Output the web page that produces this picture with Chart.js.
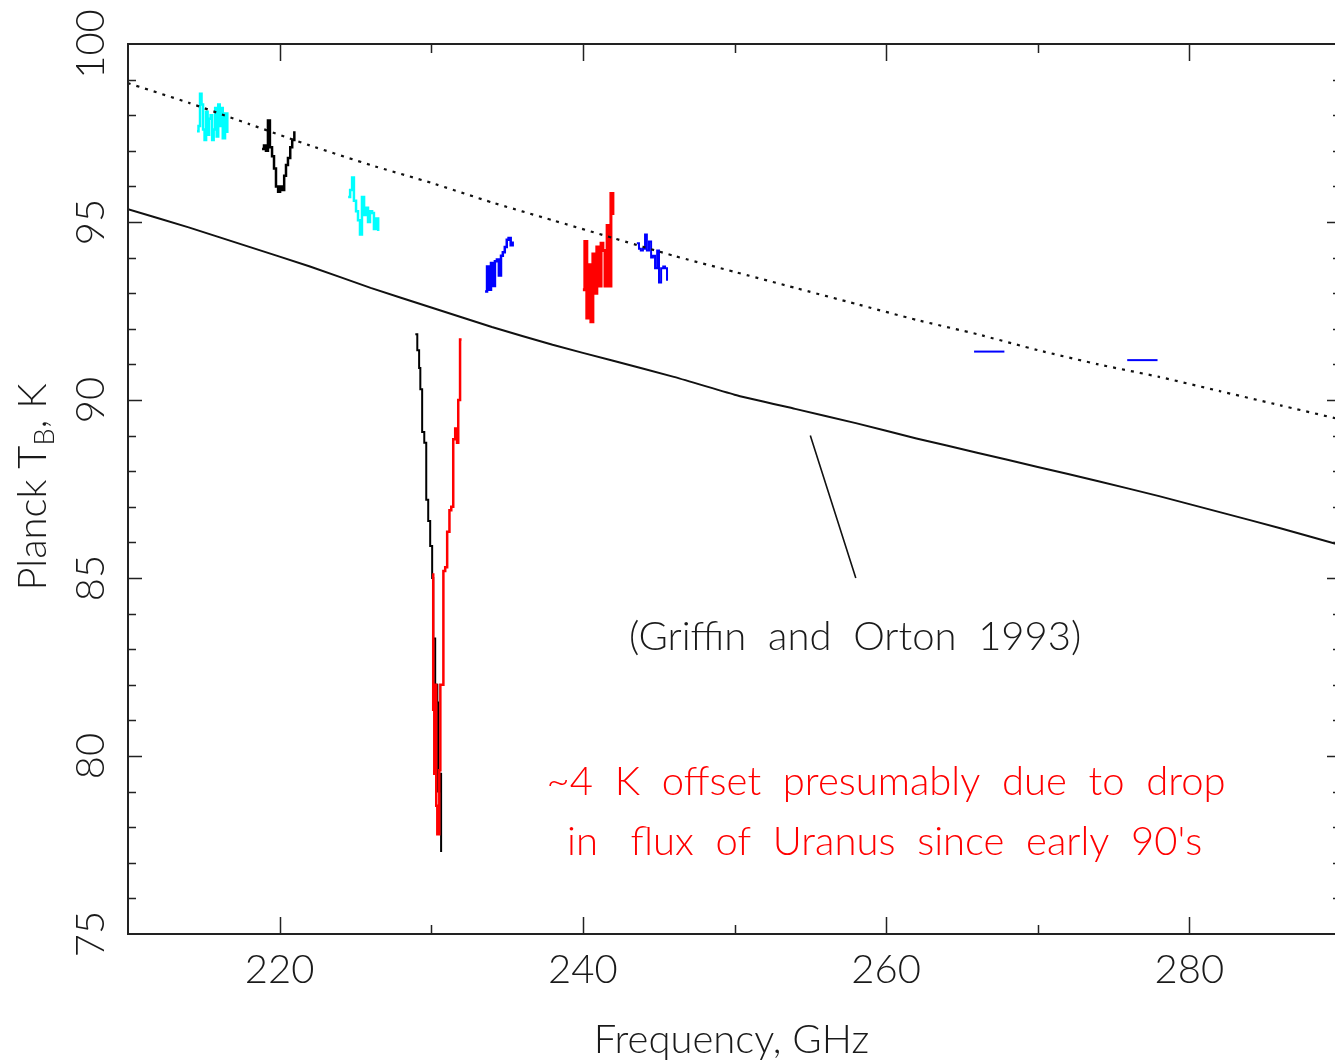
<!DOCTYPE html>
<html>
<head>
<meta charset="utf-8">
<title>Uranus brightness temperature</title>
<script src="https://cdn.jsdelivr.net/npm/chart.js@4.4.1/dist/chart.umd.min.js"></script>
<style>
  html, body { margin: 0; padding: 0; background: #fff; overflow: hidden; }
  #wrap { width: 1345px; height: 1064px; }
</style>
</head>
<body>
<div id="wrap"><canvas id="tb" width="1345" height="1064"></canvas></div>
<script>
// Axis ticks
const xTickLabels = [220, 240, 260, 280];
const yTickLabels = [75, 80, 85, 90, 95, 100];

// Model curve (Griffin and Orton 1993) and the same model lifted ~4 K
const modelFreq = [210, 214, 218, 222, 226, 230, 234, 238, 242, 246, 250, 254, 258, 262, 266, 270, 274, 278, 282, 286, 290];
const griffinOrtonK = [95.36, 94.85, 94.3, 93.75, 93.15, 92.6, 92.05, 91.55, 91.1, 90.65, 90.15, 89.75, 89.35, 88.92, 88.52, 88.12, 87.72, 87.3, 86.85, 86.4, 85.92];
const liftedModelK = [98.9, 98.35, 97.75, 97.15, 96.6, 96.1, 95.55, 95.05, 94.55, 94.05, 93.6, 93.15, 92.7, 92.25, 91.85, 91.4, 91.0, 90.65, 90.25, 89.85, 89.45];

// Measured spectra, one array pair per sideband
const cyan1Freq = [214.55, 214.65, 214.75, 214.85, 214.95, 215.05, 215.15, 215.25, 215.35, 215.45, 215.55, 215.65, 215.75, 215.85, 215.95, 216.05, 216.15, 216.25, 216.4, 216.55];
const cyan1K = [97.55, 97.7, 98.6, 98.3, 97.6, 97.3, 98.1, 97.45, 97.9, 98.0, 97.3, 97.6, 98.2, 97.4, 98.3, 97.7, 98.2, 97.35, 98.05, 97.5];

const black1Freq = [218.84, 218.97, 219.1, 219.23, 219.36, 219.5, 219.63, 219.76, 219.9, 220.03, 220.16, 220.3, 220.42, 220.55, 220.7, 220.83, 220.97];
const black1K = [97.05, 97.15, 97.0, 97.85, 97.1, 96.85, 96.5, 96.0, 95.85, 96.0, 95.9, 96.3, 96.6, 96.8, 97.1, 97.3, 97.55];

const cyan2Freq = [224.52, 224.65, 224.78, 224.9, 225.04, 225.17, 225.3, 225.43, 225.57, 225.7, 225.83, 225.96, 226.1, 226.22, 226.35, 226.5];
const cyan2K = [95.7, 95.9, 96.25, 95.6, 95.3, 95.05, 94.65, 95.7, 95.2, 95.4, 95.0, 95.3, 95.25, 94.8, 95.1, 94.75];

const lineRedFreq = [230.06, 230.13, 230.2, 230.26, 230.33, 230.4, 230.53, 230.6, 230.72, 230.8, 230.92, 231.05, 231.2, 231.32, 231.45, 231.58, 231.7, 231.78, 231.9, 232.0];
const lineRedK = [85.1, 81.3, 79.5, 82.0, 78.6, 77.8, 79.6, 82.0, 82.0, 85.2, 85.3, 86.3, 86.9, 87.0, 88.9, 89.2, 88.8, 90.0, 91.7, 91.7];

const lineBlackFreq = [228.95, 229.08, 229.2, 229.28, 229.4, 229.54, 229.67, 229.8, 229.93, 230.06, 230.13, 230.26, 230.4, 230.45, 230.58, 230.65];
const lineBlackK = [91.85, 91.4, 90.9, 90.3, 89.1, 88.8, 87.2, 86.6, 85.9, 85.0, 83.3, 82.0, 81.5, 79.0, 79.5, 77.3];

const blue1Freq = [233.55, 233.68, 233.8, 233.94, 234.07, 234.2, 234.33, 234.46, 234.6, 234.72, 234.85, 234.98, 235.1, 235.24, 235.37];
const blue1K = [93.05, 93.75, 93.1, 93.85, 93.2, 93.9, 93.95, 93.5, 94.05, 94.15, 94.3, 94.5, 94.55, 94.35, 94.45];

const red1Freq = [240.0, 240.13, 240.26, 240.4, 240.53, 240.66, 240.8, 240.92, 241.06, 241.2, 241.32, 241.46, 241.6, 241.72, 241.85, 241.98];
const red1K = [93.1, 94.45, 92.3, 93.8, 92.2, 94.1, 93.0, 94.3, 93.2, 94.4, 94.2, 93.2, 94.9, 93.2, 95.8, 95.2];

const blue2Freq = [243.56, 243.7, 243.82, 243.96, 244.1, 244.22, 244.36, 244.5, 244.62, 244.76, 244.9, 245.02, 245.16, 245.3, 245.42, 245.55];
const blue2K = [94.4, 94.25, 94.2, 94.25, 94.65, 94.2, 94.45, 94.0, 94.05, 93.7, 94.2, 93.3, 93.7, 93.75, 93.7, 93.35];

// Continuum points
const flat1Freq = [265.8, 267.8];
const flat1K = [91.36, 91.36];
const flat2Freq = [275.9, 277.9];
const flat2K = [91.12, 91.12];

// Leader line from the label to the model curve
const pointerFreq = [255.0, 258.0];
const pointerK = [89.0, 85.0];

const FONT = "Lato, 'Liberation Sans', Arial, sans-serif";
const INK = '#1a1a1a';

function toXY(xs, ys) {
    return xs.map((x, i) => ({ x: x, y: ys[i] }));
}

function spectrum(xs, ys, color, width) {
    return {
        data: toXY(xs, ys),
        borderColor: color,
        borderWidth: width || 2.5,
        stepped: true,
        pointRadius: 0
    };
}

function plain(xs, ys, color, width, dash) {
    return {
        data: toXY(xs, ys),
        borderColor: color,
        borderWidth: width,
        borderDash: dash || [],
        pointRadius: 0,
        tension: 0.15
    };
}

// Frame, inward ticks on all four sides, labels and notes
const framePlugin = {
    id: 'pgFrame',
    afterDraw(chart) {
        const ctx = chart.ctx;
        const a = chart.chartArea;
        const xs = chart.scales.x;
        const ys = chart.scales.y;
        ctx.save();
        ctx.strokeStyle = '#222';
        ctx.lineWidth = 2;
        ctx.strokeRect(a.left, a.top, a.right - a.left, a.bottom - a.top);

        ctx.lineWidth = 1.5;
        ctx.beginPath();
        xs.ticks.forEach(t => {
            if (t.value <= xs.min || t.value >= xs.max) return;
            const px = Math.round(xs.getPixelForValue(t.value)) + 0.5;
            const len = t.value % 20 === 0 ? 17 : 9;
            ctx.moveTo(px, a.bottom); ctx.lineTo(px, a.bottom - len);
            ctx.moveTo(px, a.top); ctx.lineTo(px, a.top + len);
        });
        ys.ticks.forEach(t => {
            if (t.value <= ys.min || t.value >= ys.max) return;
            const py = Math.round(ys.getPixelForValue(t.value)) + 0.5;
            const len = t.value % 5 === 0 ? 14 : 8;
            ctx.moveTo(a.left, py); ctx.lineTo(a.left + len, py);
            ctx.moveTo(a.right, py); ctx.lineTo(a.right - len, py);
        });
        ctx.stroke();

        const big = '300 40px ' + FONT;
        const small = '300 27px ' + FONT;
        ctx.fillStyle = INK;
        ctx.font = big;
        ctx.textAlign = 'center';
        ctx.textBaseline = 'middle';
        xTickLabels.forEach(v => {
            ctx.fillText(String(v), xs.getPixelForValue(v), 970);
        });
        yTickLabels.forEach(v => {
            ctx.save();
            ctx.translate(91, ys.getPixelForValue(v));
            ctx.rotate(-Math.PI / 2);
            ctx.fillText(String(v), 0, 0);
            ctx.restore();
        });

        ctx.fillText('Frequency, GHz', (a.left + a.right) / 2 - 3, 1040);

        // y title with subscript B
        const main1 = 'Planck T', sub = 'B', main2 = ', K';
        ctx.font = big;
        const w1 = ctx.measureText(main1).width;
        const w3 = ctx.measureText(main2).width;
        ctx.font = small;
        const w2 = ctx.measureText(sub).width;
        const total = w1 + w2 + w3;
        ctx.save();
        ctx.translate(33, 487);
        ctx.rotate(-Math.PI / 2);
        ctx.textAlign = 'left';
        ctx.font = big;
        ctx.fillText(main1, -total / 2, 0);
        ctx.font = small;
        ctx.fillText(sub, -total / 2 + w1, 12);
        ctx.font = big;
        ctx.fillText(main2, -total / 2 + w1 + w2, 0);
        ctx.restore();

        // notes placed in data coordinates
        ctx.font = big;
        ctx.textAlign = 'center';
        ctx.fillStyle = INK;
        ctx.fillText('(Griffin  and  Orton  1993)', xs.getPixelForValue(257.96), ys.getPixelForValue(83.34));
        ctx.fillStyle = '#ff0000';
        ctx.fillText('~4  K  offset  presumably  due  to  drop', xs.getPixelForValue(260.0), ys.getPixelForValue(79.27));
        ctx.fillText('in   flux  of  Uranus  since  early  90\'s', xs.getPixelForValue(259.9), ys.getPixelForValue(77.58));
        ctx.restore();
    }
};

new Chart(document.getElementById('tb'), {
    type: 'line',
    data: {
        datasets: [
            plain(modelFreq, griffinOrtonK, '#111', 2),
            plain(modelFreq, liftedModelK, '#111', 2.2, [3, 6]),
            plain(pointerFreq, pointerK, '#111', 1.6),
            spectrum(cyan1Freq, cyan1K, '#00ffff'),
            spectrum(black1Freq, black1K, '#000000'),
            spectrum(cyan2Freq, cyan2K, '#00ffff'),
            spectrum(lineRedFreq, lineRedK, '#ff0000', 2.5),
            spectrum(lineBlackFreq, lineBlackK, '#000000', 2),
            spectrum(blue1Freq, blue1K, '#0000ff'),
            spectrum(red1Freq, red1K, '#ff0000', 3),
            spectrum(blue2Freq, blue2K, '#0000ff', 2),
            plain(flat1Freq, flat1K, '#0000ff', 2),
            plain(flat2Freq, flat2K, '#0000ff', 2)
        ]
    },
    options: {
        responsive: false,
        animation: false,
        events: [],
        layout: { padding: { top: 44, right: 4, left: 0, bottom: 0 } },
        plugins: {
            legend: { display: false },
            tooltip: { enabled: false }
        },
        scales: {
            x: {
                type: 'linear',
                min: 210,
                max: 290,
                ticks: { display: false, stepSize: 10 },
                grid: { display: false },
                border: { display: false },
                afterFit(scale) { scale.height = 130; }
            },
            y: {
                type: 'linear',
                min: 75,
                max: 100,
                ticks: { display: false, stepSize: 1 },
                grid: { display: false },
                border: { display: false },
                afterFit(scale) { scale.width = 128; }
            }
        }
    },
    plugins: [framePlugin]
});
</script>
</body>
</html>
